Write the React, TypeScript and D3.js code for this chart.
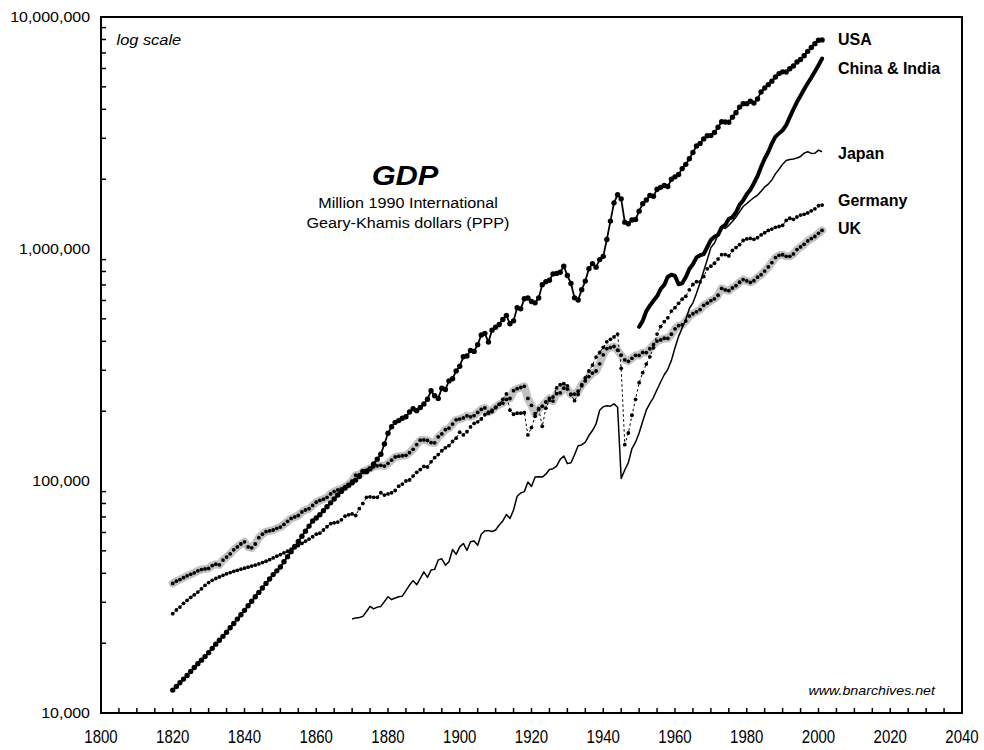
import React from "react";
import * as d3 from "d3";

// GDP values in thousands of millions (1990 International Geary-Khamis dollars)
const usaStart = 1820;
const usaGdp = [
  12.55, 13.0, 13.5, 14.0, 14.5, 15.1, 15.7, 16.3, 16.9, 17.5,
  18.2, 19.0, 19.8, 20.6, 21.4, 22.3, 23.3, 24.3, 25.4, 26.5,
  27.7, 29.0, 30.3, 31.7, 33.1, 34.6, 36.2, 37.8, 39.5, 41.0,
  42.6, 44.9, 47.2, 49.6, 52.2, 54.9, 57.8, 60.8, 63.9, 67.2,
  69.3, 71.5, 74.5, 77.5, 80.5, 83.7, 87.0, 90.2, 93.2, 95.8,
  98.4, 100.9, 104.6, 110.0, 109.7, 112.8, 118.5, 124.2, 130.5, 144.4,
  160.7, 171.4, 179.0, 182.1, 186.3, 189.1, 198.4, 204.7, 201.0, 207.5,
  214.7, 225.0, 245.0, 233.0, 227.0, 251.0, 248.0, 270.0, 276.0, 298.0,
  312.5, 343.0, 346.0, 365.0, 362.0, 387.0, 426.0, 433.0, 397.0, 447.0,
  460.0, 473.0, 497.0, 517.4, 476.0, 490.0, 558.0, 552.0, 610.0, 615.0,
  594.0, 586.0, 615.0, 702.0, 722.0, 733.0, 781.0, 785.0, 794.0, 843.3,
  768.3, 710.2, 615.7, 603.1, 668.0, 727.0, 822.0, 865.0, 835.0, 900.0,
  929.7, 1098.9, 1318.8, 1581.1, 1713.6, 1644.8, 1305.4, 1285.7, 1334.3, 1339.5,
  1455.9, 1566.8, 1625.2, 1700.0, 1688.8, 1808.1, 1843.5, 1878.1, 1859.1, 1997.1,
  2046.7, 2094.4, 2220.7, 2316.8, 2450.9, 2607.3, 2778.1, 2847.5, 2983.1, 3076.5,
  3081.9, 3178.1, 3346.6, 3536.6, 3526.7, 3516.8, 3701.2, 3868.8, 4089.5, 4228.6,
  4230.6, 4336.1, 4254.9, 4433.1, 4756.0, 4940.4, 5110.5, 5290.1, 5512.8, 5703.5,
  5803.2, 5791.9, 5985.2, 6146.2, 6395.9, 6558.2, 6803.8, 7109.6, 7394.6, 7675.0,
  7942.0, 7966.0,
];

const chinaIndiaStart = 1950;
const chinaIndiaGdp = [
  462, 490, 540, 570, 598, 625, 672, 700, 760, 775,
  765, 705, 712, 755, 820, 860, 920, 940, 950, 1020,
  1094, 1130, 1150, 1240, 1270, 1350, 1370, 1440, 1550, 1620,
  1720, 1800, 1920, 2060, 2260, 2450, 2620, 2850, 3050, 3150,
  3250, 3420, 3700, 4000, 4300, 4580, 4880, 5180, 5480, 5820,
  6200, 6620,
];

const japanStart = 1870;
const japanGdp = [
  25.4, 25.7, 25.8, 26.1, 27.4, 28.8, 28.1, 28.6, 28.8, 30.2,
  31.7, 30.8, 31.3, 31.7, 31.9, 33.7, 35.6, 37.2, 35.7, 38.0,
  40.6, 38.4, 41.3, 41.6, 45.7, 46.2, 43.4, 44.9, 50.7, 48.3,
  52.0, 53.8, 50.2, 54.7, 55.1, 52.8, 58.9, 61.0, 61.1, 60.6,
  61.5, 64.6, 67.3, 71.7, 69.0, 75.0, 86.0, 88.8, 90.0, 99.0,
  94.7, 104.0, 104.3, 104.0, 107.0, 112.0, 113.0, 116.0, 124.0, 128.1,
  118.8, 119.8, 129.8, 142.0, 143.0, 147.0, 157.0, 165.0, 176.1, 201.8,
  209.0, 211.0, 210.0, 215.0, 208.0, 102.6, 111.5, 120.0, 138.0, 147.0,
  161.0, 181.0, 202.0, 216.0, 229.0, 248.0, 267.0, 287.0, 303.0, 331.0,
  375.1, 420.0, 457.0, 496.0, 554.0, 586.0, 644.0, 717.0, 804.0, 900.0,
  1013.6, 1061.0, 1150.0, 1242.9, 1227.0, 1265.0, 1315.0, 1373.0, 1446.0, 1525.0,
  1568.5, 1618.0, 1667.0, 1706.0, 1773.0, 1851.0, 1904.0, 1984.0, 2107.0, 2208.0,
  2321.2, 2409.0, 2433.0, 2441.0, 2467.0, 2503.0, 2589.0, 2627.0, 2581.6, 2587.0,
  2669.0, 2624.5,
];

const germanyStart = 1820;
const germanyGdp = [
  26.8, 27.8, 28.6, 29.7, 30.6, 31.5, 32.3, 33.2, 34.3, 35.5,
  36.5, 37.3, 38.0, 38.6, 39.2, 39.8, 40.3, 40.8, 41.2, 41.7,
  42.1, 42.5, 43.0, 43.4, 43.9, 44.5, 45.1, 45.8, 46.6, 47.4,
  48.2, 49.0, 49.8, 50.8, 51.5, 52.7, 53.8, 55.0, 56.2, 57.5,
  59.0, 59.6, 61.5, 63.5, 65.5, 66.0, 66.5, 68.0, 70.5, 71.5,
  72.1, 71.0, 76.0, 80.0, 85.0, 85.5, 85.0, 85.0, 89.0, 87.0,
  88.0, 89.0, 91.0, 95.0, 97.0, 100.0, 101.0, 105.0, 109.0, 112.0,
  115.6, 115.0, 121.0, 126.0, 130.0, 135.0, 139.0, 142.0, 148.0, 153.0,
  162.3, 158.0, 163.0, 171.0, 177.0, 180.0, 185.0, 193.0, 196.0, 199.0,
  207.0, 214.0, 225.0, 237.3, 202.0, 194.0, 196.0, 196.0, 197.0, 158.0,
  170.0, 190.0, 205.0, 172.0, 206.0, 223.0, 230.0, 252.0, 260.0, 262.7,
  257.0, 236.0, 222.0, 236.0, 257.0, 278.0, 298.0, 316.0, 342.0, 358.0,
  377.0, 398.0, 408.0, 418.0, 430.0, 306.0, 143.4, 161.0, 192.0, 225.0,
  265.4, 293.0, 319.0, 343.0, 375.0, 430.0, 463.0, 486.0, 505.0, 540.0,
  558.5, 583.0, 608.0, 625.0, 667.0, 703.0, 723.0, 721.0, 761.0, 821.0,
  843.1, 868.0, 905.0, 944.8, 946.0, 934.0, 985.0, 1014.0, 1044.0, 1088.0,
  1105.1, 1111.0, 1101.0, 1119.0, 1150.0, 1175.0, 1202.0, 1219.0, 1240.0, 1250.0,
  1264.4, 1328.1, 1357.0, 1342.0, 1374.0, 1400.0, 1411.0, 1431.0, 1460.1, 1490.0,
  1536.0, 1546.0,
];

const ukStart = 1820;
const ukGdp = [
  36.2, 37.0, 37.6, 38.3, 39.0, 39.6, 40.2, 41.0, 41.5, 41.8,
  42.0, 43.2, 43.8, 43.5, 45.6, 47.0, 48.5, 50.5, 52.0, 53.5,
  54.7, 52.0, 51.5, 53.5, 57.0, 59.0, 60.5, 61.0, 61.5, 62.5,
  63.3, 65.0, 67.0, 69.0, 70.0, 71.0, 73.5, 75.0, 76.0, 78.5,
  81.0, 82.5, 83.5, 85.0, 88.0, 90.0, 91.5, 92.5, 94.5, 96.5,
  100.2, 106.0, 106.6, 109.6, 111.5, 113.5, 115.2, 116.3, 116.8, 116.0,
  119.0, 123.0, 126.9, 128.0, 128.5, 129.0, 132.5, 137.0, 143.5, 150.0,
  150.3, 149.5, 146.5, 146.0, 155.0, 159.5, 166.5, 169.0, 176.0, 183.5,
  184.9, 187.0, 191.0, 189.0, 191.5, 197.5, 203.5, 206.5, 198.0, 202.0,
  208.0, 214.0, 216.5, 224.6, 226.8, 245.0, 250.0, 253.0, 256.0, 227.0,
  212.0, 195.0, 204.0, 210.0, 219.0, 227.0, 221.0, 238.0, 240.0, 251.3,
  249.0, 236.0, 237.0, 244.0, 260.0, 270.0, 282.0, 292.0, 298.0, 320.0,
  350.0, 372.0, 376.0, 380.0, 366.0, 349.0, 333.0, 328.0, 338.0, 348.0,
  347.9, 358.2, 357.6, 371.6, 386.8, 400.9, 405.4, 412.3, 411.7, 429.0,
  452.8, 467.0, 471.0, 489.0, 514.0, 526.0, 536.0, 548.0, 572.0, 584.0,
  599.0, 610.0, 632.0, 675.9, 666.0, 661.0, 679.0, 695.0, 719.0, 738.0,
  728.2, 718.0, 730.0, 756.0, 775.0, 803.0, 837.0, 874.0, 918.0, 939.0,
  944.6, 930.0, 930.0, 952.0, 994.0, 1021.0, 1047.0, 1083.0, 1108.6, 1132.0,
  1168.0, 1202.0,
];

const yearTicks = [1800, 1820, 1840, 1860, 1880, 1900, 1920, 1940, 1960, 1980, 2000, 2020, 2040];
const valueTicks = [10000, 100000, 1000000, 10000000];
const seriesLabels = ["USA", "China & India", "Japan", "Germany", "UK"];

const FONT = "'Liberation Sans', Arial, Helvetica, sans-serif";

type Pt = [number, number];

export default function App() {
  const left = 101, right = 962, top = 17, bottom = 713;
  const x = d3.scaleLinear().domain([1800, 2040]).range([left, right]);
  const y = d3.scaleLog().domain([1e4, 1e7]).range([bottom, top]);

  const toPts = (start: number, vals: number[]): Pt[] =>
    vals.map((v, i) => [start + i, v * 1000] as Pt);
  const line = d3.line<Pt>().x((d) => x(d[0])).y((d) => y(d[1]));

  const usa = toPts(usaStart, usaGdp);
  const ci = toPts(chinaIndiaStart, chinaIndiaGdp);
  const jp = toPts(japanStart, japanGdp);
  const de = toPts(germanyStart, germanyGdp);
  const uk = toPts(ukStart, ukGdp);

  const minorYears = d3.range(1805, 2040, 5);
  const minorVals: number[] = [];
  [1e4, 1e5, 1e6].forEach((d) => {
    for (let k = 2; k <= 9; k++) minorVals.push(d * k);
  });

  const labelY = [44.5, 74, 158.5, 205.5, 234];

  return (
    <svg
      width={984}
      height={750}
      style={{ position: "absolute", left: 0, top: 0, background: "#fff" }}
      fontFamily={FONT}
    >
      <rect x={0} y={0} width={984} height={750} fill="#fff" />

      {/* frame */}
      <rect x={left} y={top} width={right - left} height={bottom - top} fill="none" stroke="#000" strokeWidth={2} />

      {/* x ticks */}
      {minorYears.map((yr) => (
        <line key={"xt" + yr} x1={x(yr)} x2={x(yr)} y1={bottom} y2={bottom - 5} stroke="#000" strokeWidth={1.5} />
      ))}
      {/* y ticks */}
      {minorVals.map((v) => (
        <line key={"yt" + v} x1={left} x2={left + 5} y1={y(v)} y2={y(v)} stroke="#000" strokeWidth={1.5} />
      ))}

      {/* x labels */}
      {yearTicks.map((yr) => (
        <text
          key={"xl" + yr}
          transform={`translate(${x(yr)},743) scale(1,1.2)`}
          textAnchor="middle"
          fontSize={15}
          fill="#000"
        >
          {yr}
        </text>
      ))}
      {/* y labels */}
      {valueTicks.map((v) => (
        <text
          key={"yl" + v}
          transform={`translate(90,${y(v) + 5}) scale(1.14,1)`}
          textAnchor="end"
          fontSize={14}
          fill="#000"
        >
          {d3.format(",")(v)}
        </text>
      ))}

      {/* UK halo */}
      <path d={line(uk) || ""} fill="none" stroke="#c2c2c2" strokeWidth={8} strokeLinecap="round" strokeLinejoin="round" />

      {/* Japan */}
      <path d={line(jp) || ""} fill="none" stroke="#000" strokeWidth={1.5} strokeLinejoin="round" />

      {/* Germany */}
      <path d={line(de) || ""} fill="none" stroke="#000" strokeWidth={1} strokeDasharray="2.5,2.5" />
      {de.map((d) => (
        <circle key={"de" + d[0]} cx={x(d[0])} cy={y(d[1])} r={1.9} fill="#000" />
      ))}

      {/* UK */}
      {uk.map((d) => (
        <circle key={"uk" + d[0]} cx={x(d[0])} cy={y(d[1])} r={1.9} fill="#000" />
      ))}

      {/* China & India */}
      <path d={line(ci) || ""} fill="none" stroke="#000" strokeWidth={4} strokeLinejoin="round" strokeLinecap="round" />

      {/* USA */}
      <path d={line(usa) || ""} fill="none" stroke="#000" strokeWidth={1.8} strokeLinejoin="round" />
      {usa.map((d) => (
        <circle key={"us" + d[0]} cx={x(d[0])} cy={y(d[1])} r={2.7} fill="#000" />
      ))}

      {/* series labels */}
      {seriesLabels.map((s, i) => (
        <text key={s} x={838} y={labelY[i]} fontSize={16} fontWeight="bold" fill="#000">
          {s}
        </text>
      ))}

      {/* annotations */}
      <text transform="translate(116.5,45) scale(1.13,1)" fontSize={14.5} fontStyle="italic" fill="#000">
        log scale
      </text>
      <text transform="translate(405,185) scale(1.1,1)" textAnchor="middle" fontSize={28} fontWeight="bold" fontStyle="italic" fill="#000">
        GDP
      </text>
      <text transform="translate(408,208) scale(1.115,1)" textAnchor="middle" fontSize={14.5} fill="#000">
        Million 1990 International
      </text>
      <text transform="translate(408,227.5) scale(1.115,1)" textAnchor="middle" fontSize={14.5} fill="#000">
        Geary-Khamis dollars (PPP)
      </text>
      <text transform="translate(935,695) scale(1.14,1)" textAnchor="end" fontSize={12.5} fontStyle="italic" fill="#000">
        www.bnarchives.net
      </text>
    </svg>
  );
}
